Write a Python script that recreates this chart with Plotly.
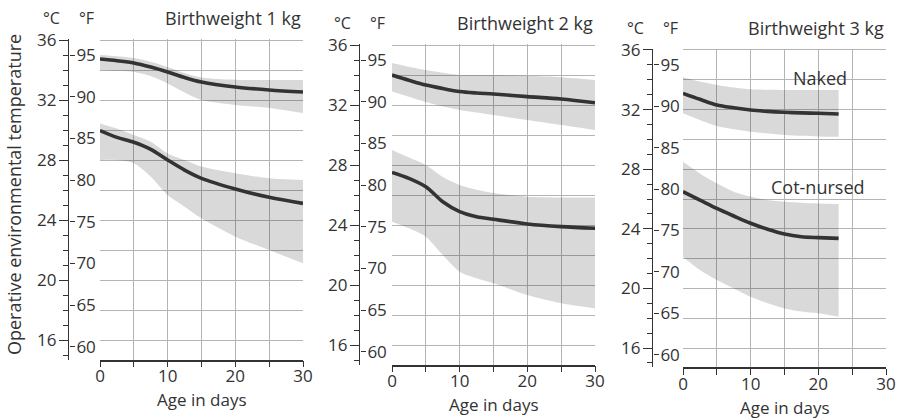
import plotly.graph_objects as go

# Age (days) at which the curves were read
days_1kg = [0, 2.5, 5, 7.5, 10, 12.5, 15, 20, 25, 30]
days_2kg = [0, 2.5, 5, 7.5, 10, 12.5, 15, 20, 25, 30]
days_3kg = [0, 2.5, 5, 7.5, 10, 12.5, 15, 17.5, 20, 23]

# Birthweight 1 kg (deg C)
naked_1kg = [34.73, 34.62, 34.47, 34.2, 33.87, 33.5, 33.2, 32.87, 32.67, 32.53]
naked_1kg_hi = [35.0, 34.92, 34.8, 34.55, 34.2, 33.8, 33.5, 33.35, 33.33, 33.33]
naked_1kg_lo = [34.0, 33.95, 33.87, 33.6, 33.1, 32.5, 32.0, 31.67, 31.47, 31.13]
cot_1kg = [29.96, 29.51, 29.18, 28.71, 28.0, 27.33, 26.78, 26.07, 25.51, 25.11]
cot_1kg_hi = [30.44, 30.1, 29.67, 29.22, 28.44, 28.0, 27.56, 27.11, 26.78, 26.67]
cot_1kg_lo = [28.0, 28.0, 27.78, 26.89, 25.67, 24.89, 24.11, 22.89, 22.0, 21.11]

# Birthweight 2 kg (deg C)
naked_2kg = [34.0, 33.65, 33.33, 33.1, 32.9, 32.8, 32.73, 32.56, 32.4, 32.15]
naked_2kg_hi = [34.8, 34.55, 34.33, 34.15, 34.0, 34.0, 34.0, 33.95, 33.85, 33.67]
naked_2kg_lo = [32.9, 32.55, 32.2, 31.9, 31.67, 31.5, 31.33, 31.0, 30.67, 30.33]
cot_2kg = [27.51, 27.11, 26.55, 25.55, 24.89, 24.55, 24.38, 24.07, 23.89, 23.78]
cot_2kg_hi = [29.0, 28.5, 28.0, 27.2, 26.67, 26.35, 26.13, 25.89, 25.84, 25.84]
cot_2kg_lo = [24.22, 23.78, 23.22, 22.0, 20.89, 20.45, 20.11, 19.33, 18.78, 18.44]

# Birthweight 3 kg (deg C)
naked_3kg = [33.09, 32.69, 32.31, 32.12, 31.97, 31.88, 31.82, 31.78, 31.75, 31.7]
naked_3kg_hi = [34.17, 33.88, 33.65, 33.48, 33.36, 33.33, 33.32, 33.32, 33.32, 33.32]
naked_3kg_lo = [31.75, 31.3, 30.9, 30.68, 30.52, 30.4, 30.3, 30.24, 30.2, 30.18]
cot_3kg = [26.49, 25.93, 25.37, 24.86, 24.37, 23.97, 23.65, 23.47, 23.41, 23.36]
cot_3kg_hi = [28.5, 27.72, 27.05, 26.49, 26.16, 25.93, 25.82, 25.75, 25.7, 25.67]
cot_3kg_lo = [22.13, 21.23, 20.56, 20.0, 19.44, 19.0, 18.66, 18.45, 18.33, 18.1]

panel_titles = ["Birthweight 1 kg", "Birthweight 2 kg", "Birthweight 3 kg"]
celsius_ticks = [16, 20, 24, 28, 32, 36]
fahrenheit_ticks = [60, 65, 70, 75, 80, 85, 90, 95]
day_ticks = [0, 5, 10, 15, 20, 25, 30]
day_labels = ["0", "", "10", "", "20", "", "30"]

panels = [
    dict(days=days_1kg, naked=(naked_1kg, naked_1kg_lo, naked_1kg_hi),
         cot=(cot_1kg, cot_1kg_lo, cot_1kg_hi)),
    dict(days=days_2kg, naked=(naked_2kg, naked_2kg_lo, naked_2kg_hi),
         cot=(cot_2kg, cot_2kg_lo, cot_2kg_hi)),
    dict(days=days_3kg, naked=(naked_3kg, naked_3kg_lo, naked_3kg_hi),
         cot=(cot_3kg, cot_3kg_lo, cot_3kg_hi)),
]

W, H = 903, 418
C_RANGE = [14.7, 36.1]
DAY_RANGE = [0, 30]


def to_f(c):
    return c * 9 / 5 + 32


# Pixel geometry of each panel: plot box, dual-scale line, header/title rows
geom = [
    dict(x0=100, x1=303, top=38.5, bottom=359.5, axis_x=69,
         unit_y=18, axis_title_y=399),
    dict(x0=392, x1=595, top=43.5, bottom=364.5, axis_x=360,
         unit_y=23, axis_title_y=404),
    dict(x0=683, x1=886, top=48.5, bottom=367.4, axis_x=653,
         unit_y=28, axis_title_y=407),
]

INK = "#333333"
GRID = "#b4b4b4"
BAND = "rgba(0,0,0,0.15)"
FONT = "Open Sans"
TICK_SIZE = 17
TEXT_SIZE = 18


def ax_name(letter, k):
    return letter if k == 1 else f"{letter}{k}"


def ax_key(letter, k):
    return f"{letter}axis" if k == 1 else f"{letter}axis{k}"


fig = go.Figure()
layout = dict(
    template="none",
    width=W, height=H, autosize=False,
    margin=dict(l=0, r=0, t=0, b=0, pad=0),
    paper_bgcolor="white", plot_bgcolor="white",
    showlegend=False,
    font=dict(family=FONT, size=TICK_SIZE, color=INK),
    annotations=[],
)

for i, (p, g) in enumerate(zip(panels, geom)):
    k_main, k_c, k_f = 3 * i + 1, 3 * i + 2, 3 * i + 3
    xm, ym = ax_name("x", k_main), ax_name("y", k_main)
    xc, yc = ax_name("x", k_c), ax_name("y", k_c)
    xf, yf = ax_name("x", k_f), ax_name("y", k_f)
    xdom = [g["x0"] / W, g["x1"] / W]
    ydom = [1 - g["bottom"] / H, 1 - g["top"] / H]
    line_x = g["axis_x"] / W

    # shaded ranges
    for mean, lo, hi in (p["naked"], p["cot"]):
        fig.add_trace(go.Scatter(x=p["days"], y=lo, xaxis=xm, yaxis=ym,
                                 mode="lines", line=dict(width=0, shape="spline", smoothing=0.8),
                                 hoverinfo="skip"))
        fig.add_trace(go.Scatter(x=p["days"], y=hi, xaxis=xm, yaxis=ym,
                                 mode="lines", fill="tonexty", fillcolor=BAND,
                                 line=dict(width=0, shape="spline", smoothing=0.8),
                                 hoverinfo="skip"))
    # mean curves
    for mean, lo, hi in (p["naked"], p["cot"]):
        fig.add_trace(go.Scatter(x=p["days"], y=mean, xaxis=xm, yaxis=ym,
                                 mode="lines",
                                 line=dict(color=INK, width=3.6, shape="spline", smoothing=0.9)))
    # the Celsius and Fahrenheit scales carry the naked curve in their own units
    fig.add_trace(go.Scatter(x=p["days"], y=p["naked"][0], xaxis=xc, yaxis=yc,
                             mode="lines", line=dict(width=0), hoverinfo="skip"))
    fig.add_trace(go.Scatter(x=p["days"], y=[to_f(v) for v in p["naked"][0]],
                             xaxis=xf, yaxis=yf, mode="lines",
                             line=dict(width=0), hoverinfo="skip"))

    layout[ax_key("x", k_main)] = dict(
        domain=xdom, anchor=ym, range=DAY_RANGE,
        tickmode="array", tickvals=day_ticks, ticktext=day_labels,
        ticks="outside", ticklen=6, tickwidth=1.3, tickcolor=INK,
        showline=True, linecolor=INK, linewidth=1.6,
        showgrid=True, gridcolor=GRID, gridwidth=1, zeroline=False,
        tickfont=dict(size=TICK_SIZE, color=INK), ticklabelstandoff=-6,
    )
    layout[ax_key("y", k_main)] = dict(
        domain=ydom, anchor=xm, range=C_RANGE,
        tickmode="linear", dtick=2, tick0=0, showticklabels=False, ticks="",
        showgrid=True, gridcolor=GRID, gridwidth=1,
        showline=False, zeroline=False,
    )
    # narrow hidden strips that host the Celsius (left) and Fahrenheit (right) scales
    layout[ax_key("x", k_c)] = dict(domain=[line_x, line_x + 0.002], anchor=yc,
                                    range=DAY_RANGE, visible=False)
    layout[ax_key("x", k_f)] = dict(domain=[line_x - 0.002, line_x], anchor=yf,
                                    range=DAY_RANGE, visible=False)
    layout[ax_key("y", k_c)] = dict(
        domain=ydom, anchor=xc, side="left", range=C_RANGE,
        tickmode="array", tickvals=celsius_ticks, ticks="outside", ticklen=9,
        tickwidth=1.2, tickcolor=INK, showline=True, linecolor=INK, linewidth=1.3,
        minor=dict(dtick=1, tick0=0, ticks="outside", ticklen=5, tickwidth=1.1,
                   tickcolor=INK, showgrid=False),
        showgrid=False, zeroline=False, tickfont=dict(size=TICK_SIZE, color=INK),
        ticklabelstandoff=-1,
    )
    layout[ax_key("y", k_f)] = dict(
        domain=ydom, anchor=xf, side="right",
        range=[to_f(C_RANGE[0]), to_f(C_RANGE[1])],
        tickmode="array", tickvals=fahrenheit_ticks,
        ticks="outside", ticklen=5, tickwidth=1.2, tickcolor=INK,
        showline=False, showgrid=False, zeroline=False,
        tickfont=dict(size=TICK_SIZE, color=INK), ticklabelstandoff=-2,
    )

    # unit headers, panel title and the day-axis title
    uy = 1 - g["unit_y"] / H
    layout["annotations"] += [
        dict(text="\u00b0C", x=(g["axis_x"] - 18) / W, y=uy, xref="paper", yref="paper",
             showarrow=False, xanchor="center", yanchor="middle",
             font=dict(size=16, color=INK)),
        dict(text="\u00b0F", x=(g["axis_x"] + 17) / W, y=uy, xref="paper", yref="paper",
             showarrow=False, xanchor="center", yanchor="middle",
             font=dict(size=16, color=INK)),
        dict(text=panel_titles[i], x=g["x1"] / W, y=uy, xref="paper", yref="paper",
             showarrow=False, xanchor="right", yanchor="middle",
             font=dict(size=TEXT_SIZE, color=INK)),
        dict(text="Age in days", x=(g["x0"] + g["x1"]) / 2 / W, y=1 - g["axis_title_y"] / H,
             xref="paper", yref="paper", showarrow=False, xanchor="center",
             yanchor="middle", font=dict(size=17, color=INK)),
    ]

# curve labels in the 3 kg panel and the shared temperature title
layout["annotations"] += [
    dict(text="Naked", x=20.2, y=34.1, xref="x7", yref="y7", showarrow=False,
         font=dict(size=TEXT_SIZE, color=INK)),
    dict(text="Cot-nursed", x=19.9, y=26.8, xref="x7", yref="y7", showarrow=False,
         font=dict(size=TEXT_SIZE, color=INK)),
    dict(text="Operative environmental temperature", x=14 / W, y=1 - 195 / H,
         xref="paper", yref="paper", textangle=-90, showarrow=False,
         xanchor="center", yanchor="middle", font=dict(size=TEXT_SIZE, color=INK)),
]

fig.update_layout(**layout)
fig.write_html("out.html")
